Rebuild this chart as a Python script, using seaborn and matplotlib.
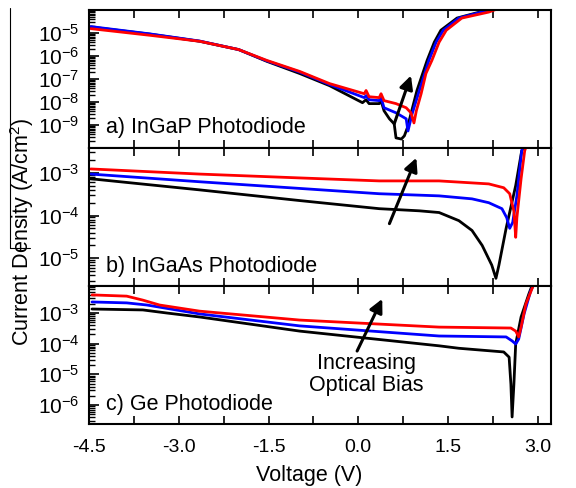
import numpy as np
import pandas as pd
import matplotlib
matplotlib.use("Agg")
import matplotlib.pyplot as plt
import seaborn as sns
from matplotlib.lines import Line2D
from matplotlib.ticker import MultipleLocator, LogLocator, NullFormatter

sns.set_theme(style="ticks")
plt.rcParams['font.family'] = ['Liberation Sans', 'DejaVu Sans']
plt.rcParams['mathtext.default'] = 'regular'
plt.rcParams['text.color'] = 'black'
plt.rcParams['xtick.color'] = 'black'
plt.rcParams['ytick.color'] = 'black'
plt.rcParams['axes.labelcolor'] = 'black'

# log10 of current density (A/cm^2), three optical bias levels
# a) InGaP
ingap_v_low = [-4.47, -3.48, -2.65, -2.0, -1.53, -0.98, -0.48, 0.07, 0.13, 0.18, 0.35, 0.38, 0.43,
               0.52, 0.60, 0.63, 0.72, 0.77, 0.82, 0.88, 0.98, 1.15, 1.27, 1.38, 1.65, 2.10, 2.30]
ingap_log_low = [-4.74, -5.05, -5.36, -5.72, -6.23, -6.76, -7.29, -8.03, -7.90, -8.07, -8.07, -7.94, -8.38,
                 -8.73, -8.95, -9.56, -9.61, -9.47, -9.12, -8.51, -7.50, -6.19, -5.40, -4.88, -4.35, -4.04, -3.90]
ingap_v_mid = [-4.47, -3.48, -2.65, -2.0, -1.53, -0.98, -0.48, 0.10, 0.13, 0.18, 0.35, 0.38, 0.43,
               0.63, 0.80, 0.83, 0.90, 1.02, 1.18, 1.30, 1.42, 1.68, 2.13, 2.33]
ingap_log_mid = [-4.72, -5.04, -5.35, -5.72, -6.21, -6.70, -7.24, -7.81, -7.72, -7.90, -7.94, -7.81, -8.25,
                 -8.47, -8.73, -9.26, -8.51, -7.50, -6.19, -5.40, -4.88, -4.35, -4.04, -3.90]
ingap_v_high = [-4.47, -3.48, -2.65, -2.0, -1.53, -0.98, -0.48, 0.10, 0.13, 0.18, 0.35, 0.38, 0.43,
                0.63, 0.80, 0.88, 0.93, 0.97, 1.05, 1.13, 1.23, 1.35, 1.47, 1.73, 2.18, 2.38]
ingap_log_high = [-4.81, -5.10, -5.36, -5.72, -6.19, -6.67, -7.20, -7.64, -7.50, -7.77, -7.81, -7.64, -7.94,
                  -8.07, -8.25, -8.47, -8.91, -8.38, -7.64, -6.76, -6.19, -5.40, -4.88, -4.35, -4.09, -3.90]

# b) InGaAs
ingaas_v_low = [-4.47, -2.65, -0.98, 0.35, 1.02, 1.35, 1.68, 1.90, 2.07, 2.23, 2.30, 2.35, 2.47, 2.63, 2.73, 2.76]
ingaas_log_low = [-3.14, -3.40, -3.65, -3.84, -3.89, -3.93, -4.12, -4.35, -4.70, -5.16, -5.47, -5.16, -4.30,
                  -3.30, -2.49, -2.40]
ingaas_v_mid = [-4.47, -2.65, 0.35, 1.35, 1.90, 2.18, 2.40, 2.48, 2.53, 2.58, 2.65, 2.73, 2.75]
ingaas_log_mid = [-3.03, -3.21, -3.49, -3.54, -3.61, -3.70, -3.84, -4.05, -4.30, -4.16, -3.54, -2.49, -2.40]
ingaas_v_high = [-4.47, -2.65, -0.98, 0.35, 1.35, 2.18, 2.43, 2.53, 2.60, 2.63, 2.65, 2.72, 2.78, 2.80]
ingaas_log_high = [-2.91, -3.03, -3.12, -3.19, -3.19, -3.26, -3.35, -3.49, -3.90, -4.51, -4.05, -3.14, -2.49, -2.40]

# c) Ge
ge_v_low = [-4.45, -3.60, -3.20, -2.65, -0.98, 1.35, 1.68, 2.43, 2.52, 2.55, 2.57, 2.60, 2.63, 2.72, 2.85, 2.90]
ge_log_low = [-2.87, -2.90, -3.00, -3.13, -3.59, -4.07, -4.15, -4.27, -4.44, -5.32, -6.39, -5.32, -4.01,
              -3.13, -2.38, -2.12]
ge_v_mid = [-4.45, -3.87, -3.53, -2.65, -0.98, 1.35, 2.47, 2.57, 2.63, 2.68, 2.77, 2.88, 2.92]
ge_log_mid = [-2.64, -2.67, -2.74, -3.03, -3.42, -3.75, -3.78, -3.91, -4.01, -3.85, -3.03, -2.28, -2.12]
ge_v_high = [-4.45, -3.87, -3.60, -3.32, -2.65, -0.98, 1.35, 2.55, 2.63, 2.68, 2.72, 2.80, 2.92]
ge_log_high = [-2.41, -2.45, -2.58, -2.74, -2.94, -3.23, -3.46, -3.49, -3.59, -3.78, -3.46, -2.71, -2.12]

PANEL_NAMES = ["a) InGaP Photodiode", "b) InGaAs Photodiode", "c) Ge Photodiode"]
PANEL_YLIM = [(1e-10, 1e-4), (10 ** -5.65, 10 ** -2.42), (10 ** -6.62, 10 ** -2.12)]
PANEL_YTICKS = [[-9, -8, -7, -6, -5], [-5, -4, -3], [-6, -5, -4, -3]]
BIAS_ORDER = ["low", "mid", "high"]
PALETTE = {"low": "black", "mid": "#0000ff", "high": "#ff0000"}

# arrow (tail V, tail log J, tip V, tip log J) per panel
ARROWS = [(0.60, -8.95, 0.88, -6.85), (0.52, -4.19, 0.97, -2.65), (-0.02, -4.24, 0.40, -2.54)]

panels = [
    [(ingap_v_low, ingap_log_low), (ingap_v_mid, ingap_log_mid), (ingap_v_high, ingap_log_high)],
    [(ingaas_v_low, ingaas_log_low), (ingaas_v_mid, ingaas_log_mid), (ingaas_v_high, ingaas_log_high)],
    [(ge_v_low, ge_log_low), (ge_v_mid, ge_log_mid), (ge_v_high, ge_log_high)],
]


def make_frame(series):
    frames = []
    for bias, (v, logj) in zip(BIAS_ORDER, series):
        frames.append(pd.DataFrame({"voltage": v, "current": 10.0 ** np.array(logj), "bias": bias}))
    return pd.concat(frames, ignore_index=True)


fig, axes = plt.subplots(3, 1, figsize=(5.76, 4.88), dpi=100, sharex=True)
fig.subplots_adjust(left=0.1545, right=0.9566, top=0.9795, bottom=0.1311, hspace=0)

for i, ax in enumerate(axes):
    df = make_frame(panels[i])
    sns.lineplot(data=df, x="voltage", y="current", hue="bias", hue_order=BIAS_ORDER,
                 palette=PALETTE, sort=False, estimator=None, lw=2, legend=False, ax=ax)
    ax.set_yscale("log")
    ax.set_ylim(*PANEL_YLIM[i])
    ax.set_xlim(-4.5, 3.22)
    ax.set_yticks([10.0 ** e for e in PANEL_YTICKS[i]])
    ax.set_yticklabels([r"$\mathdefault{10^{%d}}$" % e for e in PANEL_YTICKS[i]], fontsize=15)
    ax.yaxis.set_minor_locator(LogLocator(base=10, subs=np.arange(2, 10), numticks=100))
    ax.yaxis.set_minor_formatter(NullFormatter())
    ax.xaxis.set_major_locator(MultipleLocator(1.5))
    ax.xaxis.set_minor_locator(MultipleLocator(0.75))
    ax.tick_params(axis="x", which="both", direction="in", top=True, bottom=True,
                   length=6, width=1.2, labelsize=14, pad=11)
    ax.tick_params(axis="y", which="major", direction="in", left=True, right=False,
                   length=7, width=1.2, pad=7)
    ax.tick_params(axis="y", which="minor", direction="in", left=True, right=False, length=4, width=1)
    for sp in ax.spines.values():
        sp.set_linewidth(1.5)
        sp.set_color("black")
    ax.set_xlabel("")
    ax.set_ylabel("")
    ax.grid(False)
    ax.text(0.037, 0.145, PANEL_NAMES[i], transform=ax.transAxes, fontsize=15.5, va="center", ha="left")
    tv, tl, hv, hl = ARROWS[i]
    ax.annotate("", xy=(hv, 10 ** hl), xytext=(tv, 10 ** tl),
                arrowprops=dict(arrowstyle="-|>", color="black", lw=2.2, mutation_scale=20,
                                shrinkA=0, shrinkB=0))

axes[2].set_xticks([-4.5, -3.0, -1.5, 0.0, 1.5, 3.0])
axes[2].set_xticklabels(["-4.5", "-3.0", "-1.5", "0.0", "1.5", "3.0"])
axes[2].text(0.60, 0.36, "Increasing\nOptical Bias", transform=axes[2].transAxes,
             fontsize=15.5, ha="center", va="center", linespacing=1.05)

fig.text(0.038, 1 - 232 / 488, "Current Density (A/cm$^2$)", rotation=90, fontsize=15.5,
         ha="center", va="center")
fig.text(309 / 576, 1 - 475 / 488, "Voltage (V)", fontsize=15.5, ha="center", va="center")

# stray border lines present at the left edge of the original figure
fig.add_artist(Line2D([10 / 576, 10 / 576], [1 - 8 / 488, 1 - 248 / 488], transform=fig.transFigure,
                      color="black", lw=0.8))
fig.add_artist(Line2D([10 / 576, 30 / 576], [1 - 248 / 488, 1 - 248 / 488], transform=fig.transFigure,
                      color="black", lw=0.8))

fig.savefig("out.png", dpi=100)
